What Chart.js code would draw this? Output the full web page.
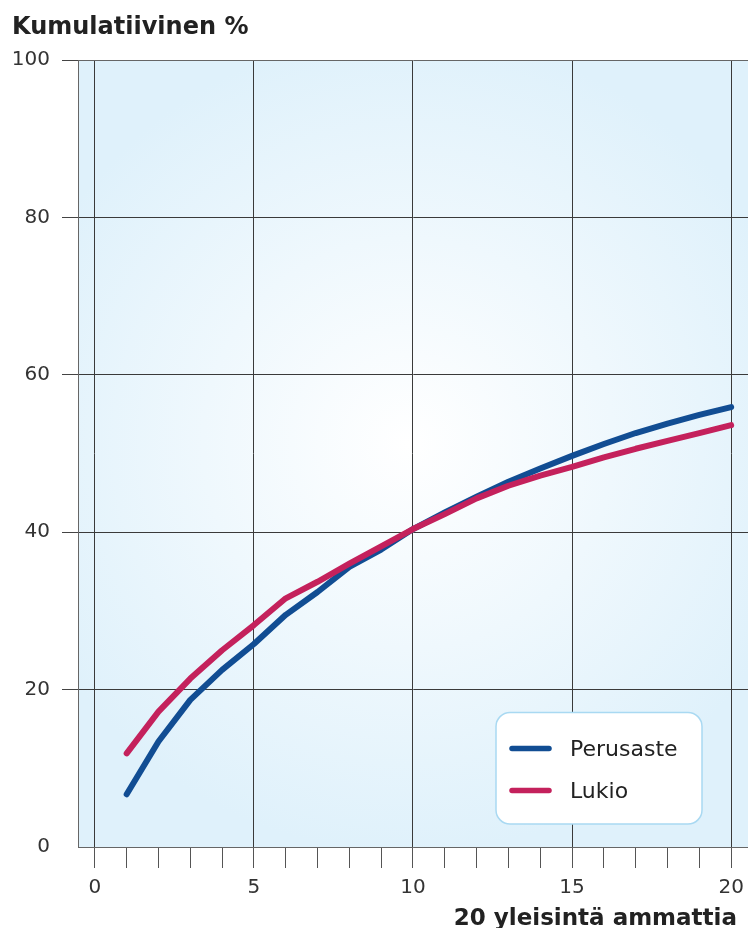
<!DOCTYPE html>
<html>
<head>
<meta charset="utf-8">
<script src="https://cdn.jsdelivr.net/npm/chart.js@4.4.1/dist/chart.umd.min.js"></script>
<style>
  html, body { margin: 0; padding: 0; background: #ffffff; }
  #wrap { width: 748px; height: 928px; position: relative; }
</style>
</head>
<body>
<div id="wrap"><canvas id="c" width="748" height="928"></canvas></div>
<script>
// ---- Data ----
const categories = [1, 2, 3, 4, 5, 6, 7, 8, 9, 10, 11, 12, 13, 14, 15, 16, 17, 18, 19, 20];
const perusaste = [6.7, 13.4, 18.7, 22.5, 25.8, 29.5, 32.4, 35.6, 37.8, 40.4, 42.5, 44.5, 46.4, 48.1, 49.7, 51.2, 52.6, 53.8, 54.9, 55.9];
const lukio = [11.9, 17.2, 21.4, 25.0, 28.2, 31.6, 33.7, 36.0, 38.2, 40.4, 42.3, 44.3, 45.9, 47.2, 48.3, 49.5, 50.6, 51.6, 52.6, 53.6];
const xTickValues = [0, 1, 2, 3, 4, 5, 6, 7, 8, 9, 10, 11, 12, 13, 14, 15, 16, 17, 18, 19, 20];
const xTickLabels = ['0', '5', '10', '15', '20'];
const yTickValues = [0, 20, 40, 60, 80, 100];
const seriesNames = ['Perusaste', 'Lukio'];
const yTitle = 'Kumulatiivinen %';
const xTitle = '20 yleisintä ammattia';

const BLUE = '#114d93';
const RED = '#c4215c';

Chart.defaults.font.family = "'DejaVu Sans', sans-serif";

const bgPlugin = {
  id: 'bgPlugin',
  beforeDraw(chart) {
    const { ctx, chartArea: a } = chart;
    ctx.save();
    ctx.fillStyle = '#ffffff';
    ctx.fillRect(0, 0, chart.width, chart.height);
    const cx = (a.left + a.right) / 2 - 5;
    const cy = (a.top + a.bottom) / 2 - 10;
    const g = ctx.createRadialGradient(cx, cy, 0, cx, cy, 410);
    g.addColorStop(0, '#ffffff');
    g.addColorStop(1, '#dff1fb');
    ctx.fillStyle = g;
    ctx.fillRect(a.left, a.top, a.right - a.left, a.bottom - a.top);
    ctx.restore();
  }
};

const textPlugin = {
  id: 'textPlugin',
  afterDraw(chart) {
    const { ctx } = chart;
    ctx.save();
    ctx.fillStyle = '#222222';
    ctx.font = "bold 24px 'DejaVu Sans', sans-serif";
    ctx.textBaseline = 'alphabetic';
    ctx.textAlign = 'left';
    ctx.fillText(yTitle, 12, 33.5);
    ctx.font = "bold 23px 'DejaVu Sans', sans-serif";
    ctx.textAlign = 'right';
    ctx.fillText(xTitle, 737, 925);

    // legend box
    const bx = 496, by = 712.5, bw = 206, bh = 111.5, r = 14;
    ctx.beginPath();
    ctx.roundRect(bx, by, bw, bh, r);
    ctx.fillStyle = '#ffffff';
    ctx.fill();
    ctx.lineWidth = 1.5;
    ctx.strokeStyle = '#a9d9f2';
    ctx.stroke();
    const ys = [748.5, 790.5];
    chart.data.datasets.slice().sort((p, q) => p.legendIndex - q.legendIndex).forEach((ds, i) => {
      ctx.beginPath();
      ctx.moveTo(512, ys[i]);
      ctx.lineTo(549, ys[i]);
      ctx.lineWidth = 5.5;
      ctx.lineCap = 'round';
      ctx.strokeStyle = ds.borderColor;
      ctx.stroke();
      ctx.fillStyle = '#222222';
      ctx.font = "22px 'DejaVu Sans', sans-serif";
      ctx.textAlign = 'left';
      ctx.textBaseline = 'middle';
      ctx.fillText(ds.label, 570, ys[i] + 1.5);
    });
    ctx.restore();
  }
};

const toPoints = arr => categories.map((c, i) => ({ x: c, y: arr[i] }));

new Chart(document.getElementById('c'), {
  type: 'line',
  data: {
    datasets: [
      {
        label: seriesNames[0], legendIndex: 0, order: 1,
        data: toPoints(perusaste),
        borderColor: BLUE, borderWidth: 6,
        pointRadius: 0, tension: 0,
        borderCapStyle: 'round', borderJoinStyle: 'round', fill: false
      },
      {
        label: seriesNames[1], legendIndex: 1, order: 0,
        data: toPoints(lukio),
        borderColor: RED, borderWidth: 6,
        pointRadius: 0, tension: 0,
        borderCapStyle: 'round', borderJoinStyle: 'round', fill: false
      }
    ]
  },
  options: {
    responsive: false,
    animation: false,
    devicePixelRatio: 1,
    layout: { padding: { top: 60, left: 0, right: 0, bottom: 0 } },
    plugins: {
      legend: { display: false },
      tooltip: { enabled: false },
      title: { display: false }
    },
    scales: {
      x: {
        type: 'linear',
        min: -0.53, max: 20.53,
        afterBuildTicks: s => { s.ticks = xTickValues.map(v => ({ value: v })); },
        afterFit: s => { s.height = 81; s.paddingLeft = 0; s.paddingRight = 0; },
        ticks: {
          autoSkip: false,
          maxRotation: 0,
          padding: 8,
          color: '#333333',
          font: { size: 20 },
          callback: v => (xTickLabels.includes(String(v)) ? String(v) : '')
        },
        grid: {
          color: ctx => (ctx.tick && ctx.tick.value % 5 === 0 ? '#3a3a3a' : 'rgba(0,0,0,0)'),
          tickColor: '#555555',
          tickLength: 21,
          lineWidth: 1
        },
        border: { display: true, color: '#666666', width: 1 }
      },
      y: {
        min: 0, max: 100,
        afterBuildTicks: s => { s.ticks = yTickValues.map(v => ({ value: v })); },
        afterFit: s => { s.width = 78; s.paddingTop = 0; s.paddingBottom = 0; },
        ticks: {
          padding: 12,
          color: '#333333',
          font: { size: 20 }
        },
        grid: {
          color: ctx => (ctx.tick && (ctx.tick.value === 0 || ctx.tick.value === 100) ? '#666666' : '#3a3a3a'),
          tickColor: ctx => (ctx.tick && ctx.tick.value === 0 ? 'rgba(0,0,0,0)' : '#444444'),
          tickLength: 16,
          lineWidth: 1
        },
        border: { display: true, color: '#666666', width: 1 }
      }
    }
  },
  plugins: [bgPlugin, textPlugin]
});
</script>
</body>
</html>
